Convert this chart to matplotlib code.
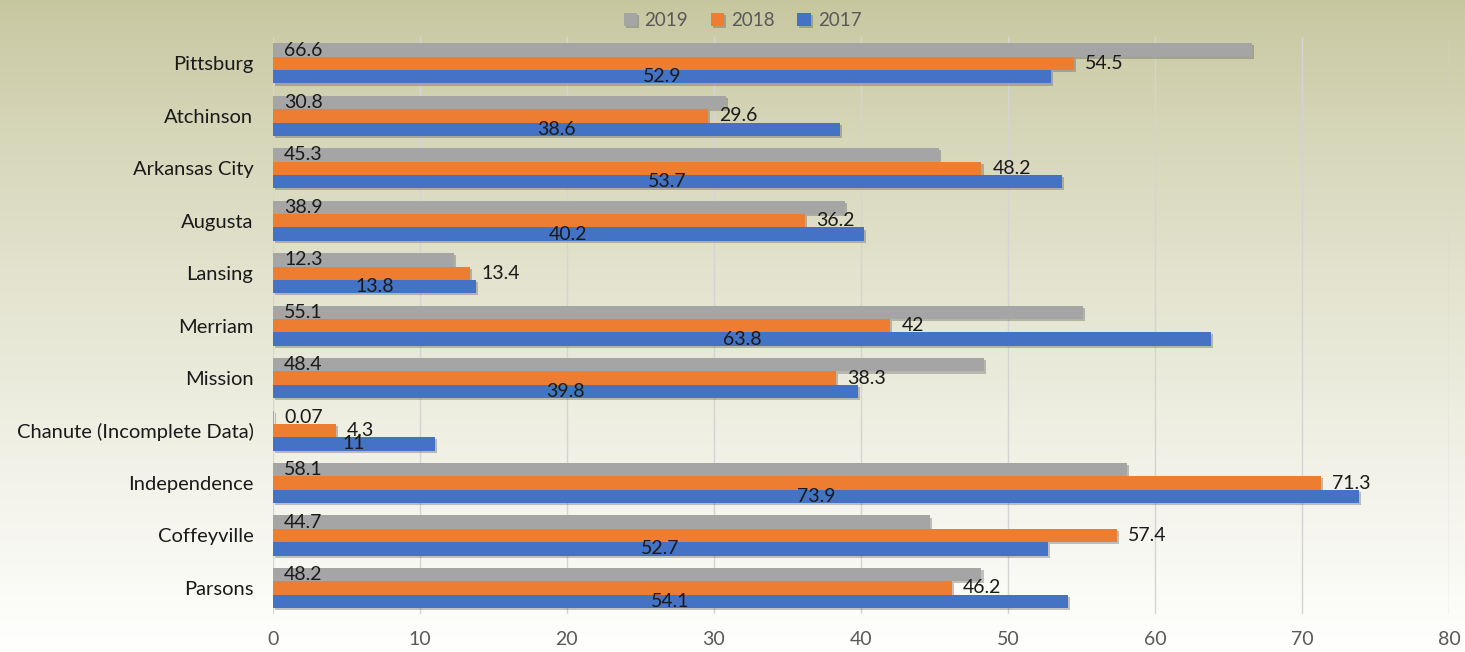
# -*- coding=utf-8 -*-
import numpy as np
import matplotlib
matplotlib.use('Agg')
import matplotlib.pyplot as plt
import matplotlib.patheffects as pe

plt.rcParams['font.family'] = ['Lato', 'DejaVu Sans']

# data
cities = ['Pittsburg', 'Atchinson', 'Arkansas City', 'Augusta', 'Lansing', 'Merriam',
          'Mission', 'Chanute (Incomplete Data)', 'Independence', 'Coffeyville', 'Parsons']
v2019 = [66.6, 30.8, 45.3, 38.9, 12.3, 55.1, 48.4, 0.07, 58.1, 44.7, 48.2]
v2018 = [54.5, 29.6, 48.2, 36.2, 13.4, 42, 38.3, 4.3, 71.3, 57.4, 46.2]
v2017 = [52.9, 38.6, 53.7, 40.2, 13.8, 63.8, 39.8, 11, 73.9, 52.7, 54.1]
x_ticks = [0, 10, 20, 30, 40, 50, 60, 70, 80]

c2019 = '#A5A5A5'
c2018 = '#ED7D31'
c2017 = '#4472C4'

fig = plt.figure(figsize=(14.65, 6.52), dpi=100)

# gradient background (olive at top -> white at bottom)
bg = fig.add_axes([0, 0, 1, 1], zorder=-10)
t = np.linspace(0, 1, 256)[:, None]
top = np.array([198, 198, 158]) / 255.0
bot = np.array([255, 255, 254]) / 255.0
w = t ** 0.8
grad = top[None, None, :] * (1 - w[..., None]) + bot[None, None, :] * w[..., None]
grad = np.repeat(grad, 4, axis=1)
bg.imshow(grad, aspect='auto', extent=[0, 1, 0, 1])
bg.axis('off')

ax = fig.add_axes([0.1863, 0.058, 0.8027, 0.885])
ax.patch.set_alpha(0)

y = np.arange(len(cities))
h = 0.255
shadow = [pe.SimplePatchShadow(offset=(1.5, -1.5), alpha=0.35, shadow_rgbFace='#555555'), pe.Normal()]

b19 = ax.barh(y - h, v2019, height=h, color=c2019, label='2019', zorder=3)
b18 = ax.barh(y, v2018, height=h, color=c2018, label='2018', zorder=3)
b17 = ax.barh(y + h, v2017, height=h, color=c2017, label='2017', zorder=3)
for bars in (b19, b18, b17):
    for b in bars:
        b.set_path_effects(shadow)

fmt = lambda v: '{:g}'.format(v)
# 2019 labels at inside base
for yy, v in zip(y - h, v2019):
    ax.annotate(fmt(v), xy=(0, yy), xytext=(8, 0), textcoords='offset points',
                ha='left', va='center', fontsize=14, color='#1a1a1a', zorder=5)
ax.bar_label(b18, labels=[fmt(v) for v in v2018], label_type='edge', padding=8,
             fontsize=14, color='#1a1a1a', zorder=5)
ax.bar_label(b17, labels=[fmt(v) for v in v2017], label_type='center',
             fontsize=14, color='#1a1a1a', zorder=5)

ax.set_yticks(y)
ax.set_yticklabels(cities, fontsize=14.5, color='#1a1a1a')
ax.set_ylim(len(cities) - 0.5, -0.5)
ax.set_xlim(0, 80)
ax.set_xticks(x_ticks)
ax.set_xticklabels([str(v) for v in x_ticks], fontsize=14, color='#595959')
ax.tick_params(axis='both', length=0)
ax.tick_params(axis='y', pad=14)
ax.tick_params(axis='x', pad=12)
ax.grid(axis='x', color='#d4d4d4', linewidth=1, zorder=0)
for s in ax.spines.values():
    s.set_visible(False)

leg = fig.legend(handles=[b19, b18, b17], labels=['2019', '2018', '2017'], loc='upper center',
                 bbox_to_anchor=(0.507, 1.008), ncol=3, frameon=False, fontsize=13.5,
                 handlelength=0.7, handleheight=0.7, handletextpad=0.4, columnspacing=1.2)
for txt in leg.get_texts():
    txt.set_color('#595959')

plt.savefig('out.png', dpi=100)
